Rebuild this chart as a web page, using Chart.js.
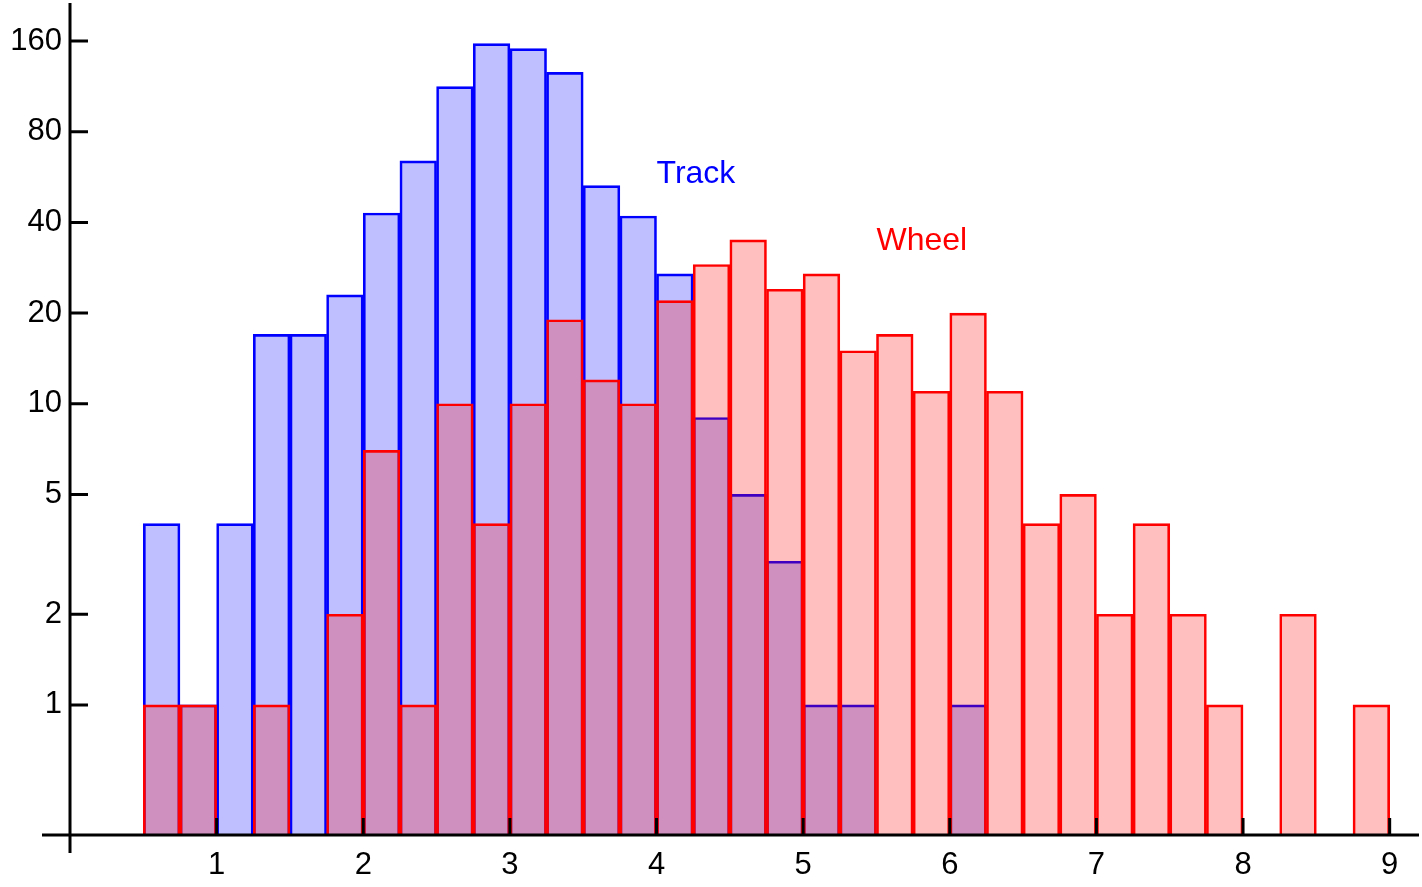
<!DOCTYPE html>
<html>
<head>
<meta charset="utf-8">
<script src="https://cdn.jsdelivr.net/npm/chart.js@4/dist/chart.umd.min.js"></script>
<style>
  html, body { margin: 0; padding: 0; background: #fff; }
  #wrap { width: 1422px; height: 887px; position: relative; }
</style>
</head>
<body>
<div id="wrap"><canvas id="chart1"></canvas></div>
<script>
// bins of width 0.25, from 0.5 to 9.0 (centres below)
const binStart = [0.5, 0.75, 1, 1.25, 1.5, 1.75, 2, 2.25, 2.5, 2.75, 3, 3.25, 3.5, 3.75,
  4, 4.25, 4.5, 4.75, 5, 5.25, 5.5, 5.75, 6, 6.25, 6.5, 6.75, 7, 7.25, 7.5, 7.75,
  8, 8.25, 8.5, 8.75]
const binWidth = 0.25

// counts per bin, null = empty bin
const track = [4, 1, 4, 17, 17, 23, 43, 64, 113, 157, 151, 126, 53, 42,
  27, 9, 5, 3, 1, 1, null, null, 1, null, null, null, null, null, null, null,
  null, null, null, null]
const wheel = [1, 1, null, 1, null, 2, 7, 1, 10, 4, 10, 19, 12, 10,
  22, 29, 35, 24, 27, 15, 17, 11, 20, 11, 4, 5, 2, 4, 2, 1,
  null, 2, null, 1]

const xTicks = [1, 2, 3, 4, 5, 6, 7, 8, 9]
const yTicks = [1, 2, 5, 10, 20, 40, 80, 160]

const seriesLabels = [
  { text: 'Track', x: 4.0, y: 54, color: '#0000ff' },
  { text: 'Wheel', x: 5.5, y: 32.4, color: '#ff0000' }
]

function toPoints(vals) {
  return binStart.map((s, i) => ({ x: s + binWidth / 2, y: vals[i] }))
}

const font = { family: "'Liberation Sans', Arial, sans-serif", size: 31 }

// axes lines, inner tick marks and the two series names
const axesPlugin = {
  id: 'axesPlugin',
  afterDraw(chart) {
    const ctx = chart.ctx
    const xs = chart.scales.x
    const ys = chart.scales.y
    const x0 = xs.left
    const y0 = ys.bottom
    ctx.save()
    ctx.strokeStyle = '#000'
    ctx.lineWidth = 3
    ctx.beginPath()
    ctx.moveTo(x0, 3)
    ctx.lineTo(x0, y0 + 18)
    ctx.moveTo(x0 - 28, y0)
    ctx.lineTo(xs.right, y0)
    ctx.stroke()
    ctx.beginPath()
    yTicks.forEach(v => {
      const py = ys.getPixelForValue(v)
      ctx.moveTo(x0, py)
      ctx.lineTo(x0 + 18, py)
    })
    xTicks.forEach(v => {
      const px = xs.getPixelForValue(v)
      ctx.moveTo(px, y0)
      ctx.lineTo(px, y0 - 17)
    })
    ctx.stroke()

    ctx.font = "32px 'Liberation Sans', Arial, sans-serif"
    ctx.textAlign = 'left'
    ctx.textBaseline = 'alphabetic'
    seriesLabels.forEach(l => {
      ctx.fillStyle = l.color
      ctx.fillText(l.text, xs.getPixelForValue(l.x), ys.getPixelForValue(l.y))
    })
    ctx.restore()
  }
}

var ctx = document.getElementById('chart1').getContext('2d')
var chart1 = new Chart(ctx, {
  type: 'bar',
  data: {
    datasets: [{
      label: 'Wheel',
      data: toPoints(wheel),
      backgroundColor: 'rgba(255,0,0,0.25)',
      borderColor: '#ff0000',
      borderWidth: 2,
      order: 0
    }, {
      label: 'Track',
      data: toPoints(track),
      backgroundColor: 'rgba(0,0,255,0.25)',
      borderColor: '#0000ff',
      borderWidth: 2,
      order: 1
    }]
  },
  options: {
    animation: false,
    responsive: true,
    maintainAspectRatio: false,
    layout: { padding: { top: 0, right: 3, left: 0, bottom: 0 } },
    plugins: { legend: { display: false }, tooltip: { enabled: false } },
    datasets: { bar: { grouped: false, barPercentage: 1, categoryPercentage: 1 } },
    scales: {
      x: {
        type: 'linear',
        min: 0,
        max: 9.2,
        offset: false,
        grid: { display: false },
        border: { display: false },
        afterBuildTicks: s => { s.ticks = xTicks.map(v => ({ value: v })) },
        afterFit: s => { s.height = 52 },
        ticks: { color: '#000', font: font, padding: 4, maxRotation: 0, autoSkip: false }
      },
      y: {
        type: 'logarithmic',
        min: 0.37,
        max: 190,
        grid: { display: false },
        border: { display: false },
        afterBuildTicks: s => { s.ticks = yTicks.map(v => ({ value: v })) },
        afterFit: s => { s.width = 70 },
        ticks: { color: '#000', font: font, padding: 0, callback: v => String(v) }
      }
    }
  },
  plugins: [axesPlugin]
})
</script>
</body>
</html>
